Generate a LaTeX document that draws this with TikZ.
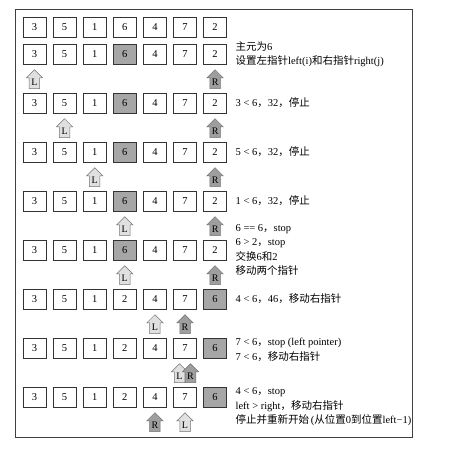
\documentclass[tikz,border=0pt]{standalone}
\usepackage{fontspec}
\setmainfont{Liberation Serif}
\newfontfamily\zh{Noto Sans CJK SC}
\usetikzlibrary{positioning,shapes.arrows}
\begin{document}
\begin{tikzpicture}[x=1pt, y=-1pt, node distance=6.4pt,
	font=\fontsize{10.5}{14.4}\selectfont,
	box/.style={draw=black!80, fill=white, line width=0.7pt, minimum width=23pt, minimum height=20pt, inner sep=0pt},
	pivot/.style={box, fill=black!35},
	ptr/.style={single arrow, shape border rotate=90, draw=black!55, line width=0.5pt,
		minimum height=19pt, minimum width=16pt, single arrow head extend=3pt,
		single arrow head indent=0pt, inner sep=1pt, text width=8pt, align=center,
		font=\fontsize{10}{10}\selectfont},
	lptr/.style={ptr, fill=black!12},
	rptr/.style={ptr, fill=black!38},
	note/.style={align=left, inner sep=0pt}
	]
	
	\useasboundingbox (0,0) rectangle (461,455);
	\draw[black!75, line width=0.8pt] (15,9) rectangle (412,437);
	
	\node [box] (a0) at (34.5,27) {3}; \node [box, right=of a0] (b0) {5}; \node [box, right=of b0] (c0) {1}; \node [box, right=of c0] (d0) {6}; \node [box, right=of d0] (e0) {4}; \node [box, right=of e0] (f0) {7}; \node [box, right=of f0] (g0) {2};
	
	\node [box] (a1) at (34.5,54) {3}; \node [box, right=of a1] (b1) {5}; \node [box, right=of b1] (c1) {1}; \node [pivot, right=of c1] (d1) {6}; \node [box, right=of d1] (e1) {4}; \node [box, right=of e1] (f1) {7}; \node [box, right=of f1] (g1) {2};
	\node [lptr, below=5pt of a1] (l1) {L};
	\node [rptr, below=5pt of g1] (r1) {R};
	\node [note, right=8.5pt of g1] (t1) {{\zh 主元为}6\\{\zh 设置左指针}left(i){\zh 和右指针}right(j)};
	
	\node [box] (a2) at (34.5,103) {3}; \node [box, right=of a2] (b2) {5}; \node [box, right=of b2] (c2) {1}; \node [pivot, right=of c2] (d2) {6}; \node [box, right=of d2] (e2) {4}; \node [box, right=of e2] (f2) {7}; \node [box, right=of f2] (g2) {2};
	\node [lptr, below=5pt of b2] (l2) {L};
	\node [rptr, below=5pt of g2] (r2) {R};
	\node [note, right=8.5pt of g2] (t2) {3 < 6{\zh ，}32{\zh ，停止}};
	
	\node [box] (a3) at (34.5,152) {3}; \node [box, right=of a3] (b3) {5}; \node [box, right=of b3] (c3) {1}; \node [pivot, right=of c3] (d3) {6}; \node [box, right=of d3] (e3) {4}; \node [box, right=of e3] (f3) {7}; \node [box, right=of f3] (g3) {2};
	\node [lptr, below=5pt of c3] (l3) {L};
	\node [rptr, below=5pt of g3] (r3) {R};
	\node [note, right=8.5pt of g3] (t3) {5 < 6{\zh ，}32{\zh ，停止}};
	
	\node [box] (a4) at (34.5,201) {3}; \node [box, right=of a4] (b4) {5}; \node [box, right=of b4] (c4) {1}; \node [pivot, right=of c4] (d4) {6}; \node [box, right=of d4] (e4) {4}; \node [box, right=of e4] (f4) {7}; \node [box, right=of f4] (g4) {2};
	\node [lptr, below=5pt of d4] (l4) {L};
	\node [rptr, below=5pt of g4] (r4) {R};
	\node [note, right=8.5pt of g4] (t4) {1 < 6{\zh ，}32{\zh ，停止}};
	
	\node [box] (a5) at (34.5,250) {3}; \node [box, right=of a5] (b5) {5}; \node [box, right=of b5] (c5) {1}; \node [pivot, right=of c5] (d5) {6}; \node [box, right=of d5] (e5) {4}; \node [box, right=of e5] (f5) {7}; \node [box, right=of f5] (g5) {2};
	\node [lptr, below=5pt of d5] (l5) {L};
	\node [rptr, below=5pt of g5] (r5) {R};
	\node [note, right=8.5pt of g5] (t5) {6 == 6{\zh ，}stop\\6 > 2{\zh ，}stop\\{\zh 交换}6{\zh 和}2\\{\zh 移动两个指针}};
	
	\node [box] (a6) at (34.5,299) {3}; \node [box, right=of a6] (b6) {5}; \node [box, right=of b6] (c6) {1}; \node [box, right=of c6] (d6) {2}; \node [box, right=of d6] (e6) {4}; \node [box, right=of e6] (f6) {7}; \node [pivot, right=of f6] (g6) {6};
	\node [lptr, below=5pt of e6] (l6) {L};
	\node [rptr, below=5pt of f6] (r6) {R};
	\node [note, right=8.5pt of g6] (t6) {4 < 6{\zh ，}46{\zh ，移动右指针}};
	
	\node [box] (a7) at (34.5,348) {3}; \node [box, right=of a7] (b7) {5}; \node [box, right=of b7] (c7) {1}; \node [box, right=of c7] (d7) {2}; \node [box, right=of d7] (e7) {4}; \node [box, right=of e7] (f7) {7}; \node [pivot, right=of f7] (g7) {6};
	\node [lptr, below=5pt of f7, xshift=-5.5pt] (l7) {L};
	\node [rptr, below=5pt of f7, xshift=5.5pt] (r7) {R};
	\node [note, right=8.5pt of g7, yshift=-2pt] (t7) {7 < 6{\zh ，}stop (left pointer)\\7 < 6{\zh ，移动右指针}};
	
	\node [box] (a8) at (34.5,397) {3}; \node [box, right=of a8] (b8) {5}; \node [box, right=of b8] (c8) {1}; \node [box, right=of c8] (d8) {2}; \node [box, right=of d8] (e8) {4}; \node [box, right=of e8] (f8) {7}; \node [pivot, right=of f8] (g8) {6};
	\node [rptr, below=5pt of e8] (r8) {R};
	\node [lptr, below=5pt of f8] (l8) {L};
	\node [note, right=8.5pt of g8, yshift=-10pt] (t8) {4 < 6{\zh ，}stop\\left > right{\zh ，移动右指针}\\{\zh 停止并重新开始}\,({\zh 从位置}0{\zh 到位置}left−1)};
	
\end{tikzpicture}
\end{document}
